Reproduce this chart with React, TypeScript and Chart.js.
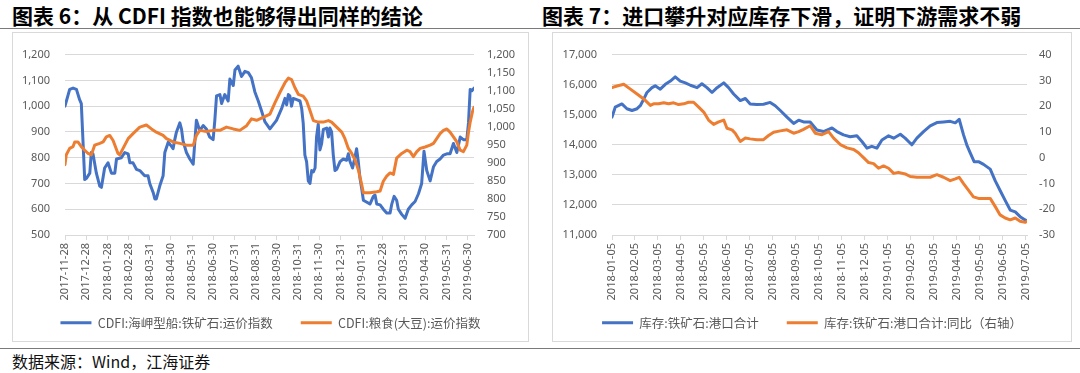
import React, { useEffect, useRef } from 'react';
import { Chart, registerables } from 'chart.js';

Chart.register(...registerables);

// ---------- 图表 6 data (x = months since 2017-11-28) ----------
const leftTickLabels = [
  '2017-11-28', '2017-12-28', '2018-01-28', '2018-02-28', '2018-03-31', '2018-04-30',
  '2018-05-31', '2018-06-30', '2018-07-31', '2018-08-31', '2018-09-30', '2018-10-31',
  '2018-11-30', '2018-12-31', '2019-01-31', '2019-02-28', '2019-03-31', '2019-04-30',
  '2019-05-31', '2019-06-30',
];

const capeMonth = [
  0, 0.22, 0.38, 0.54, 0.69, 0.77, 0.93, 1.01, 1.17, 1.24, 1.32, 1.48, 1.64, 1.72, 1.87, 2.03,
  2.19, 2.35, 2.43, 2.66, 2.82, 2.98, 3.06, 3.21, 3.37, 3.53, 3.76, 3.92, 4.0, 4.16, 4.24, 4.31,
  4.47, 4.63, 4.71, 4.87, 5.02, 5.1, 5.18, 5.26, 5.42, 5.5, 5.57, 5.73, 5.89, 6.05, 6.2, 6.36,
  6.52, 6.68, 6.83, 6.99, 7.07, 7.15, 7.31, 7.39, 7.54, 7.7, 7.78, 7.94, 8.02, 8.17, 8.33, 8.49,
  8.65, 8.8, 8.96, 9.12, 9.28, 9.43, 9.67, 9.98, 10.22, 10.38, 10.46, 10.54, 10.61, 10.69, 10.77,
  10.93, 11.09, 11.17, 11.24, 11.32, 11.4, 11.48, 11.56, 11.64, 11.72, 11.8, 11.87, 11.95, 12.03,
  12.11, 12.19, 12.35, 12.43, 12.5, 12.58, 12.66, 12.74, 12.82, 12.98, 13.13, 13.29, 13.37, 13.45,
  13.57, 13.69, 13.76, 13.84, 13.92, 14.0, 14.08, 14.39, 14.55, 14.63, 14.71, 14.87, 15.02, 15.18,
  15.34, 15.42, 15.53, 15.65, 15.73, 15.89, 16.05, 16.2, 16.36, 16.52, 16.68, 16.83, 16.94, 17.07,
  17.23, 17.39, 17.54, 17.7, 17.86, 18.02, 18.17, 18.33, 18.49, 18.65, 18.8, 18.96, 19.04, 19.12,
  19.2, 19.3,
];
const capeIndex = [
  1000, 1065, 1070, 1065, 1025, 1010, 715, 720, 740, 820, 815, 740, 690, 685, 760, 780,
  740, 740, 795, 800, 820, 815, 780, 780, 755, 750, 730, 730, 700, 665, 640, 640,
  690, 730, 820, 860, 845, 835, 870, 900, 935, 910, 865, 820, 795, 775, 945, 905,
  925, 910, 880, 870, 945, 1040, 1045, 1010, 1045, 1020, 1105, 1080, 1140, 1155, 1115, 1135,
  1130, 1110, 1055, 1020, 980, 940, 912, 945, 990, 1030, 1005, 1045, 1040, 1000, 1030,
  1025, 1020, 990, 935, 810, 785, 710, 700, 750, 745, 760, 880, 930, 830,
  855, 910, 915, 880, 915, 900, 810, 750, 755, 785, 795, 790, 815, 785,
  760, 805, 835, 785, 720, 680, 635, 620, 650, 655, 620, 617, 600, 585,
  585, 620, 650, 635, 600, 580, 565, 600, 617, 630, 660, 700, 825, 750,
  710, 765, 785, 795, 810, 815, 815, 855, 820, 880, 870, 870, 935, 1065,
  1060, 1070,
];

const soyMonth = [
  0, 0.06, 0.22, 0.38, 0.46, 0.61, 0.77, 0.93, 1.09, 1.24, 1.4, 1.64, 1.8, 1.95, 2.11, 2.27,
  2.5, 2.58, 2.74, 2.98, 3.21, 3.53, 3.84, 4.08, 4.31, 4.63, 4.79, 5.1, 5.42, 5.73, 6.05, 6.2,
  6.36, 6.68, 6.99, 7.31, 7.62, 7.94, 8.25, 8.57, 8.8, 9.04, 9.35, 9.67, 9.91, 10.14, 10.38, 10.54,
  10.69, 10.85, 11.01, 11.24, 11.4, 11.56, 11.72, 11.95, 12.19, 12.43, 12.58, 12.82, 13.06, 13.21,
  13.37, 13.53, 13.69, 13.84, 14.0, 14.08, 14.39, 14.71, 14.87, 15.02, 15.18, 15.34, 15.5, 15.65,
  15.89, 16.13, 16.28, 16.44, 16.6, 16.76, 16.99, 17.23, 17.39, 17.54, 17.7, 17.86, 18.02, 18.17,
  18.33, 18.49, 18.65, 18.8, 18.96, 19.04, 19.12, 19.22, 19.3,
];
const soyIndex = [
  895, 922, 940, 945, 958, 958, 945, 935, 926, 922, 949, 954, 958, 972, 976, 962,
  926, 922, 940, 967, 981, 999, 1005, 994, 985, 976, 967, 958, 954, 949, 949, 976,
  990, 987, 990, 990, 999, 994, 990, 1003, 1022, 1018, 1026, 1035, 1067, 1095, 1122, 1135,
  1131, 1108, 1090, 1085, 1072, 1045, 1017, 1013, 1013, 1017, 1013, 999, 985, 967,
  940, 926, 908, 881, 840, 817, 817, 820, 822, 849, 863, 872, 868, 913,
  926, 935, 931, 917, 931, 940, 944, 949, 954, 967, 981, 990, 994, 985,
  972, 958, 935, 931, 949, 985, 1013, 1040, 1054,
];

// ---------- 图表 7 data (x = months since 2018-01-05) ----------
const rightTickLabels = [
  '2018-01-05', '2018-02-05', '2018-03-05', '2018-04-05', '2018-05-05', '2018-06-05',
  '2018-07-05', '2018-08-05', '2018-09-05', '2018-10-05', '2018-11-05', '2018-12-05',
  '2019-01-05', '2019-02-05', '2019-03-05', '2019-04-05', '2019-05-05', '2019-06-05',
  '2019-07-05',
];

const stockMonth = [
  0, 0.14, 0.43, 0.65, 0.87, 1.09, 1.23, 1.38, 1.52, 1.74, 1.88, 2.1, 2.32, 2.54, 2.75, 2.97,
  3.19, 3.41, 3.7, 3.91, 4.13, 4.35, 4.57, 4.86, 5.07, 5.29, 5.58, 5.8, 6.01, 6.3, 6.59, 6.88,
  7.1, 7.32, 7.61, 7.9, 8.12, 8.33, 8.62, 8.91, 9.2, 9.57, 9.78, 10.07, 10.36, 10.65, 10.87, 11.09,
  11.3, 11.52, 11.74, 12.03, 12.25, 12.54, 12.75, 13.04, 13.26, 13.55, 13.84, 14.13, 14.42, 14.71,
  14.93, 15.1, 15.29, 15.43, 15.58, 15.75, 15.94, 16.16, 16.45, 16.67, 16.88, 17.1, 17.32, 17.54,
  17.75, 17.97, 18.05,
];
const stockTons = [
  14920, 15250, 15360, 15200, 15140, 15200, 15300, 15520, 15740, 15900, 15960, 15850, 16010, 16120, 16260, 16120,
  16060, 15980, 15900, 16030, 15900, 15740, 15900, 16060, 15900, 15690, 15470, 15540, 15360, 15340, 15350, 15410,
  15300, 15140, 14920, 14710, 14820, 14760, 14760, 14490, 14440, 14560, 14440, 14330, 14270, 14300, 14110, 13890,
  13950, 13890, 14160, 14300, 14220, 14350, 14220, 14000, 14220, 14440, 14630, 14740, 14760, 14780,
  14730, 14850, 14330, 14000, 13730, 13440, 13440, 13350, 13190, 12800, 12480, 12150, 11830, 11770,
  11610, 11500, 11470,
];

const yoyMonth = [
  0, 0.22, 0.51, 0.8, 1.09, 1.38, 1.67, 1.81, 2.03, 2.25, 2.46, 2.68, 2.9, 3.12, 3.33, 3.55,
  3.77, 3.99, 4.2, 4.42, 4.64, 4.86, 5.0, 5.22, 5.36, 5.58, 5.8, 6.01, 6.3, 6.59, 6.81, 7.03,
  7.32, 7.61, 7.9, 8.12, 8.33, 8.62, 8.84, 9.13, 9.42, 9.64, 9.93, 10.22, 10.51, 10.72, 10.94, 11.16,
  11.38, 11.59, 11.81, 12.03, 12.25, 12.46, 12.75, 12.97, 13.26, 13.55, 13.84, 14.13, 14.42, 14.71,
  14.93, 15.1, 15.29, 15.51, 15.72, 15.94, 16.23, 16.45, 16.67, 16.88, 17.1, 17.32, 17.54, 17.75,
  17.97, 18.05,
];
const yoyPct = [
  27.2, 27.8, 28.5, 26.6, 24.7, 22.8, 20.3, 20.9, 20.9, 21.3, 20.9, 21.3, 20.6, 20.9, 21.5, 21.5,
  19.6, 17.7, 14.6, 12.9, 13.9, 14.6, 11.4, 10.8, 9.5, 6.3, 7.6, 7.3, 7.0, 7.0, 8.6, 9.9,
  10.4, 10.8, 9.5, 10.1, 11.0, 12.4, 9.5, 8.9, 10.1, 7.6, 5.1, 3.8, 3.2, 1.9, 0.0, -1.9,
  -2.3, -4.1, -3.2, -4.1, -6.1, -5.7, -6.3, -7.3, -7.6, -7.6, -7.6, -6.6, -7.6, -8.9,
  -8.2, -7.6, -10.1, -12.7, -15.2, -15.8, -15.8, -15.8, -19.0, -22.2, -23.4, -24.1, -23.4, -24.7,
  -25.1, -24.7,
];

// ---------- styling ----------
const BLUE = '#4472C4';
const ORANGE = '#ED7D31';
const GRID = '#D9D9D9';
const TEXT = '#595959';
const FONT = '"Noto Sans", "Noto Sans CJK SC", sans-serif';
const CJK = '"Noto Sans CJK SC", "Noto Sans", sans-serif';
const EM = '\u2003';

const fmt = (v: number | string) => Number(v).toLocaleString('en-US');

type Series = { label: string; xs: number[]; ys: number[]; color: string; axis: string; order: number };
type AxisSpec = { min: number; max: number; step: number; width: number; pad: number };
type Spec = {
  series: Series[];
  tickLabels: string[];
  xMax: number;
  left: AxisSpec;
  right: AxisSpec;
  xHeight: number;
  padTop: number;
  padBottom: number;
  legendGap: number;
};

function buildConfig(s: Spec): any {
  return {
    type: 'line',
    data: {
      datasets: s.series.map((d) => ({
        label: d.label,
        data: d.xs.map((x, i) => ({ x, y: d.ys[i] })),
        borderColor: d.color,
        backgroundColor: d.color,
        borderWidth: 3,
        pointRadius: 0,
        tension: 0,
        borderJoinStyle: 'round',
        borderCapStyle: 'round',
        yAxisID: d.axis,
        order: d.order,
      })),
    },
    options: {
      responsive: false,
      animation: false,
      events: [],
      layout: { padding: { top: s.padTop, bottom: s.padBottom, left: 0, right: 0 } },
      plugins: {
        tooltip: { enabled: false },
        legend: {
          position: 'bottom',
          labels: {
            usePointStyle: true,
            pointStyle: 'line',
            pointStyleWidth: 31,
            padding: s.legendGap,
            color: TEXT,
            font: { size: 12.5, family: CJK },
            sort: (a: any, b: any) => a.datasetIndex - b.datasetIndex,
          },
        },
      },
      scales: {
        x: {
          type: 'linear',
          bounds: 'data',
          min: 0,
          max: s.xMax,
          ticks: {
            stepSize: 1,
            autoSkip: false,
            includeBounds: false,
            minRotation: 90,
            maxRotation: 90,
            padding: 3,
            color: TEXT,
            font: { size: 11, family: FONT },
            callback: (v: number) => {
              const lbl = Number.isInteger(v) ? s.tickLabels[v] : undefined;
              return lbl !== undefined ? lbl : null;
            },
          },
          grid: { drawOnChartArea: false, drawTicks: true, tickLength: 5, color: GRID },
          border: { display: true, color: GRID },
          afterFit: (sc: any) => {
            sc.height = s.xHeight;
          },
        },
        y: {
          position: 'left',
          min: s.left.min,
          max: s.left.max,
          ticks: { stepSize: s.left.step, padding: s.left.pad, color: TEXT, font: { size: 11, family: FONT }, callback: fmt },
          grid: { color: GRID, drawTicks: false },
          border: { display: false },
          afterFit: (sc: any) => {
            sc.width = s.left.width;
          },
        },
        y2: {
          position: 'right',
          min: s.right.min,
          max: s.right.max,
          ticks: { stepSize: s.right.step, padding: s.right.pad, color: TEXT, font: { size: 11, family: FONT }, callback: fmt },
          grid: { display: false, drawTicks: false },
          border: { display: false },
          afterFit: (sc: any) => {
            sc.width = s.right.width;
          },
        },
      },
    },
  };
}

const leftSpec: Spec = {
  series: [
    { label: 'CDFI:海岬型船:铁矿石:运价指数' + EM, xs: capeMonth, ys: capeIndex, color: BLUE, axis: 'y', order: 2 },
    { label: 'CDFI:粮食(大豆):运价指数', xs: soyMonth, ys: soyIndex, color: ORANGE, axis: 'y2', order: 1 },
  ],
  tickLabels: leftTickLabels,
  xMax: 19.3,
  left: { min: 500, max: 1200, step: 100, width: 52, pad: 15 },
  right: { min: 700, max: 1200, step: 50, width: 54, pad: 13 },
  xHeight: 66,
  padTop: 17,
  padBottom: 2,
  legendGap: 15.5,
};

const rightSpec: Spec = {
  series: [
    { label: '库存:铁矿石:港口合计' + EM, xs: stockMonth, ys: stockTons, color: BLUE, axis: 'y', order: 2 },
    { label: '库存:铁矿石:港口合计:同比（右轴）', xs: yoyMonth, ys: yoyPct, color: ORANGE, axis: 'y2', order: 1 },
  ],
  tickLabels: rightTickLabels,
  xMax: 18.05,
  left: { min: 11000, max: 17000, step: 1000, width: 59, pad: 15 },
  right: { min: -30, max: 40, step: 10, width: 44, pad: 12 },
  xHeight: 66,
  padTop: 17,
  padBottom: 2,
  legendGap: 15.5,
};

function ChartCanvas({ spec, left, top, width, height }: { spec: Spec; left: number; top: number; width: number; height: number }) {
  const ref = useRef<HTMLCanvasElement>(null);
  useEffect(() => {
    const chart = new Chart(ref.current as HTMLCanvasElement, buildConfig(spec));
    return () => chart.destroy();
  }, [spec]);
  return (
    <canvas
      ref={ref}
      width={width}
      height={height}
      style={{ position: 'absolute', left, top, width, height }}
    />
  );
}

const titleStyle: React.CSSProperties = {
  position: 'absolute',
  top: 3,
  fontFamily: CJK,
  fontSize: 21,
  fontWeight: 700,
  lineHeight: '24px',
  color: '#000',
  whiteSpace: 'nowrap',
};

export default function App() {
  return (
    <div style={{ position: 'absolute', left: 0, top: 0, width: 1080, height: 373, background: '#fff', overflow: 'hidden' }}>
      <div style={{ ...titleStyle, left: 12 }}>图表 6：从 CDFI 指数也能够得出同样的结论</div>
      <div style={{ ...titleStyle, left: 542 }}>图表 7：进口攀升对应库存下滑，证明下游需求不弱</div>
      <div style={{ position: 'absolute', left: 0, top: 28, width: 1080, height: 1, background: '#7a7a7a' }} />
      <div style={{ position: 'absolute', left: 12, top: 32, width: 517, height: 310, border: '1px solid #D9D9D9', boxSizing: 'border-box' }} />
      <div style={{ position: 'absolute', left: 552, top: 32, width: 520, height: 310, border: '1px solid #D9D9D9', boxSizing: 'border-box' }} />
      <ChartCanvas spec={leftSpec} left={13} top={33} width={515} height={308} />
      <ChartCanvas spec={rightSpec} left={553} top={33} width={518} height={308} />
      <div style={{ position: 'absolute', left: 0, top: 348, width: 1080, height: 1, background: '#7a7a7a' }} />
      <div style={{ position: 'absolute', left: 12, top: 351, fontFamily: CJK, fontSize: 16, lineHeight: '20px', color: '#111', whiteSpace: 'nowrap' }}>
        数据来源：Wind，江海证券
      </div>
    </div>
  );
}
